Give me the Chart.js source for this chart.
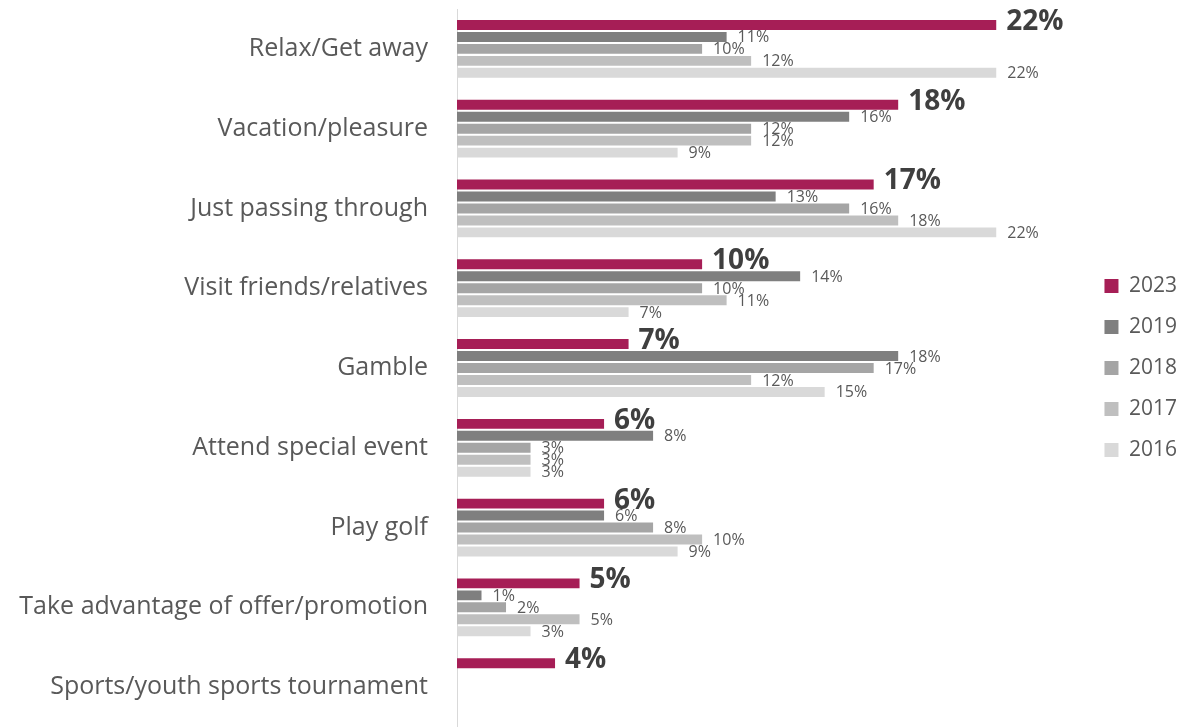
<!DOCTYPE html>
<html>
<head>
<meta charset="utf-8">
<title>Reasons for visiting</title>
<script src="https://cdn.jsdelivr.net/npm/chart.js@4/dist/chart.umd.min.js"></script>
<style>
  html, body { margin: 0; padding: 0; background: #fff; }
  #wrap { width: 1187px; height: 727px; position: relative; }
</style>
</head>
<body>
<div id="wrap"><canvas id="reasons-chart"></canvas></div>
<script>
// categories, top to bottom
const categories = [
  'Relax/Get away',
  'Vacation/pleasure',
  'Just passing through',
  'Visit friends/relatives',
  'Gamble',
  'Attend special event',
  'Play golf',
  'Take advantage of offer/promotion',
  'Sports/youth sports tournament',
];

const years = ['2023', '2019', '2018', '2017', '2016'];

// percent of respondents per survey year (null = not asked that year)
const values2023 = [22, 18, 17, 10, 7, 6, 6, 5, 4];
const values2019 = [11, 16, 13, 14, 18, 8, 6, 1, null];
const values2018 = [10, 12, 16, 10, 17, 3, 8, 2, null];
const values2017 = [12, 12, 18, 11, 12, 3, 10, 5, null];
const values2016 = [22, 9, 22, 7, 15, 3, 9, 3, null];

const seriesColors = ['#A61E56', '#7F7F7F', '#A5A5A5', '#BFBFBF', '#D9D9D9'];
const series = [values2023, values2019, values2018, values2017, values2016];

const FONT = '"Open Sans", "Noto Sans", sans-serif';

// value labels at the end of every bar; the current year gets the big bold one
const barValueLabels = {
  id: 'barValueLabels',
  afterDatasetsDraw(chart) {
    const ctx = chart.ctx;
    ctx.save();
    ctx.textAlign = 'left';
    ctx.textBaseline = 'middle';
    chart.data.datasets.forEach((ds, di) => {
      const meta = chart.getDatasetMeta(di);
      if (meta.hidden) return;
      meta.data.forEach((bar, i) => {
        const v = ds.data[i];
        if (v === null || v === undefined) return;
        if (di === 0) {
          ctx.font = `bold 28px ${FONT}`;
          ctx.fillStyle = '#3F3F3F';
          ctx.fillText(v + '%', bar.x + 10, bar.y - 3);
        } else {
          ctx.font = `16px ${FONT}`;
          ctx.fillStyle = '#595959';
          ctx.fillText(v + '%', bar.x + 11, bar.y + 1);
        }
      });
    });
    ctx.restore();
  },
};

new Chart(document.getElementById('reasons-chart'), {
  type: 'bar',
  data: {
    labels: categories,
    datasets: years.map((y, i) => ({
      label: y,
      data: series[i],
      backgroundColor: seriesColors[i],
      borderWidth: 0,
      categoryPercentage: 0.75,
      barPercentage: 0.83,
    })),
  },
  options: {
    indexAxis: 'y',
    responsive: true,
    maintainAspectRatio: false,
    animation: false,
    layout: { padding: { left: 10, top: 9, right: 0, bottom: 0 } },
    plugins: {
      tooltip: { enabled: false },
      legend: {
        position: 'right',
        align: 'center',
        labels: {
          boxWidth: 14,
          boxHeight: 14,
          padding: 20,
          color: '#595959',
          font: { family: FONT, size: 21 },
        },
      },
    },
    scales: {
      x: {
        display: false,
        min: 0,
        max: 25.6,
      },
      y: {
        // fixed axis width; no extra top/bottom room for the tick labels
        afterFit(scale) {
          scale.width = 447;
          scale.paddingTop = 0;
          scale.paddingBottom = 0;
        },
        grid: { display: false, drawTicks: false },
        border: { display: true, color: '#D9D9D9', width: 1 },
        ticks: {
          color: '#595959',
          padding: 29,
          font: { family: FONT, size: 25 },
        },
      },
    },
  },
  plugins: [barValueLabels],
});
</script>
</body>
</html>
